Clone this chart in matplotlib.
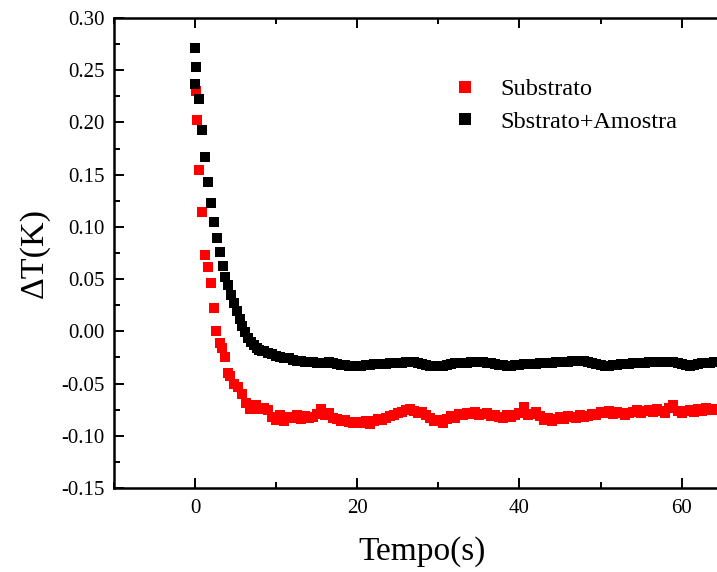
import matplotlib
matplotlib.use("Agg")
import matplotlib.pyplot as plt
from matplotlib.ticker import MultipleLocator, FormatStrFormatter

# ---- data ----
t_black = [0.00, 0.10, 0.00, 0.50, 0.85, 1.20, 1.55, 1.95, 2.30, 2.65, 3.00, 3.35,
           3.70, 4.05, 4.40, 4.75, 5.10, 5.45, 5.80, 6.15, 6.50, 6.85, 7.20, 7.55,
           7.90, 8.25,
           8.5, 9.0, 9.5, 10.0, 10.5, 11.0, 11.5, 12.0, 12.5, 13.0, 13.5, 14.0, 14.5,
           15.0, 15.5, 16.0, 16.5, 17.0, 17.5, 18.0, 18.5, 19.0, 19.5, 20.0, 20.5,
           21.0, 21.5, 22.0, 22.5, 23.0, 23.5, 24.0, 24.5, 25.0, 25.5, 26.0, 26.5,
           27.0, 27.5, 28.0, 28.5, 29.0, 29.5, 30.0, 30.5, 31.0, 31.5, 32.0, 32.5,
           33.0, 33.5, 34.0, 34.5, 35.0, 35.5, 36.0, 36.5, 37.0, 37.5, 38.0, 38.5,
           39.0, 39.5, 40.0, 40.5, 41.0, 41.5, 42.0, 42.5, 43.0, 43.5, 44.0, 44.5,
           45.0, 45.5, 46.0, 46.5, 47.0, 47.5, 48.0, 48.5, 49.0, 49.5, 50.0, 50.5,
           51.0, 51.5, 52.0, 52.5, 53.0, 53.5, 54.0, 54.5, 55.0, 55.5, 56.0, 56.5,
           57.0, 57.5, 58.0, 58.5, 59.0, 59.5, 60.0, 60.5, 61.0, 61.5, 62.0, 62.5,
           63.0, 63.5, 64.0, 64.5, 65.0]
y_black = [0.271, 0.253, 0.237, 0.222, 0.193, 0.167, 0.143, 0.123, 0.105, 0.089, 0.076, 0.063,
           0.052, 0.044, 0.035, 0.027, 0.019, 0.012, 0.005, -0.001, -0.006, -0.010, -0.013, -0.016,
           -0.018, -0.019,
           -0.019, -0.021, -0.022, -0.024, -0.025, -0.026, -0.026, -0.027, -0.028, -0.028, -0.029, -0.029, -0.029,
           -0.030, -0.030, -0.030, -0.029, -0.030, -0.031, -0.032, -0.032, -0.033, -0.033, -0.033, -0.033,
           -0.032, -0.032, -0.031, -0.031, -0.031, -0.031, -0.030, -0.030, -0.030, -0.030, -0.029, -0.029,
           -0.029, -0.030, -0.031, -0.032, -0.033, -0.033, -0.033, -0.033, -0.032, -0.031, -0.030, -0.030,
           -0.030, -0.030, -0.029, -0.029, -0.029, -0.029, -0.030, -0.030, -0.031, -0.032, -0.032, -0.033,
           -0.033, -0.032, -0.032, -0.031, -0.031, -0.031, -0.031, -0.030, -0.030, -0.030, -0.030, -0.029,
           -0.029, -0.029, -0.029, -0.028, -0.028, -0.028, -0.028, -0.029, -0.030, -0.031, -0.032, -0.033,
           -0.033, -0.032, -0.032, -0.031, -0.031, -0.031, -0.030, -0.030, -0.030, -0.030, -0.029, -0.029,
           -0.029, -0.029, -0.029, -0.029, -0.029, -0.030, -0.031, -0.032, -0.033, -0.032, -0.031, -0.030,
           -0.030, -0.030, -0.029, -0.029, -0.029]

t_red = [0.00, 0.05, 0.15, 0.50, 0.85, 1.20, 1.50, 1.95, 2.30, 2.60, 3.00, 3.30,
         3.65, 4.00, 4.30, 4.75, 5.30, 5.80, 6.20, 6.80,
         7.0, 7.5, 8.0, 8.5, 9.0, 9.5, 10.0, 10.5, 11.0, 11.5, 12.0, 12.5, 13.0, 13.5,
         14.0, 14.5, 15.0, 15.5, 16.0, 16.5, 17.0, 17.5, 18.0, 18.5, 19.0, 19.5, 20.0,
         20.5, 21.0, 21.5, 22.0, 22.5, 23.0, 23.5, 24.0, 24.5, 25.0, 25.5, 26.0, 26.5,
         27.0, 27.5, 28.0, 28.5, 29.0, 29.5, 30.0, 30.5, 31.0, 31.5, 32.0, 32.5, 33.0,
         33.5, 34.0, 34.5, 35.0, 35.5, 36.0, 36.5, 37.0, 37.5, 38.0, 38.5, 39.0, 39.5,
         40.0, 40.5, 41.0, 41.5, 42.0, 42.5, 43.0, 43.5, 44.0, 44.5, 45.0, 45.5, 46.0,
         46.5, 47.0, 47.5, 48.0, 48.5, 49.0, 49.5, 50.0, 50.5, 51.0, 51.5, 52.0, 52.5,
         53.0, 53.5, 54.0, 54.5, 55.0, 55.5, 56.0, 56.5, 57.0, 57.5, 58.0, 58.5, 59.0,
         59.5, 60.0, 60.5, 61.0, 61.5, 62.0, 62.5, 63.0, 63.5, 64.0, 64.5, 65.0]
y_red = [0.237, 0.230, 0.202, 0.154, 0.114, 0.073, 0.0615, 0.046, 0.022, 0.000, -0.011, -0.016,
         -0.025, -0.040, -0.043, -0.050, -0.053, -0.060, -0.069, -0.074,
         -0.072, -0.071, -0.074, -0.073, -0.075, -0.082, -0.085, -0.080, -0.086, -0.082, -0.083, -0.080, -0.084, -0.081,
         -0.083, -0.082, -0.079, -0.074, -0.080, -0.078, -0.083, -0.084, -0.086, -0.085, -0.087, -0.088, -0.087,
         -0.088, -0.086, -0.089, -0.086, -0.084, -0.085, -0.083, -0.081, -0.080, -0.078, -0.077, -0.075, -0.074,
         -0.076, -0.078, -0.077, -0.080, -0.083, -0.086, -0.085, -0.088, -0.084, -0.081, -0.083, -0.079, -0.080,
         -0.078, -0.079, -0.077, -0.080, -0.079, -0.078, -0.081, -0.080, -0.082, -0.083, -0.080, -0.082, -0.080,
         -0.078, -0.072, -0.080, -0.079, -0.077, -0.081, -0.085, -0.083, -0.086, -0.084, -0.082, -0.084, -0.081,
         -0.082, -0.083, -0.080, -0.082, -0.081, -0.079, -0.080, -0.077, -0.078, -0.076, -0.079, -0.077, -0.078,
         -0.080, -0.078, -0.077, -0.075, -0.078, -0.076, -0.075, -0.077, -0.074, -0.076, -0.078, -0.073, -0.071,
         -0.076, -0.078, -0.076, -0.075, -0.077, -0.074, -0.076, -0.073, -0.075, -0.074, -0.075, -0.074]

label_red = "Substrato"
label_black = "Sbstrato+Amostra"
xlabel = "Tempo(s)"
ylabel = "ΔT(K)"

# ---- figure ----
plt.rcParams['font.family'] = ['Liberation Serif', 'DejaVu Serif']
plt.rcParams['axes.unicode_minus'] = False

fig = plt.figure(figsize=(7.17, 5.72), dpi=100)
W, H = 717, 572
left_px, right_px, top_px, bottom_px = 114, 731, 18, 488
ax = fig.add_axes([left_px / W, 1 - bottom_px / H,
                   (right_px - left_px) / W, (bottom_px - top_px) / H])

ms = 6.5
ax.plot(t_red, y_red, linestyle='none', marker='s', ms=ms, color='#ff0000',
        markeredgewidth=0, label=label_red)
ax.plot(t_black, y_black, linestyle='none', marker='s', ms=ms, color='#000000',
        markeredgewidth=0, label=label_black)

ax.set_xlim(-10.04, 66.1)
ax.set_ylim(-0.15, 0.30)

ax.xaxis.set_major_locator(MultipleLocator(20))
ax.xaxis.set_minor_locator(MultipleLocator(10))
ax.yaxis.set_major_locator(MultipleLocator(0.05))
ax.yaxis.set_minor_locator(MultipleLocator(0.025))
ax.yaxis.set_major_formatter(FormatStrFormatter('%.2f'))

for s in ['left', 'bottom', 'top']:
    ax.spines[s].set_linewidth(1.8)
ax.spines['right'].set_visible(False)

ax.tick_params(which='both', direction='in', top=True, right=False, width=1.4,
               labelsize=15)
ax.tick_params(which='major', length=7)
ax.tick_params(which='minor', length=4)
ax.tick_params(axis='x', pad=8)
ax.tick_params(axis='y', pad=7)

ax.set_xlabel(xlabel, fontsize=24, labelpad=13)
ax.set_ylabel(ylabel, fontsize=24.5, labelpad=8)

leg = ax.legend(loc='upper left', bbox_to_anchor=(453 / W, 1 - 78 / H),
                bbox_transform=fig.transFigure, frameon=False, fontsize=17.5,
                handlelength=1.0, handletextpad=0.95, labelspacing=0.45,
                borderpad=0, borderaxespad=0, markerscale=1.25)

fig.savefig('out.png', dpi=100)
